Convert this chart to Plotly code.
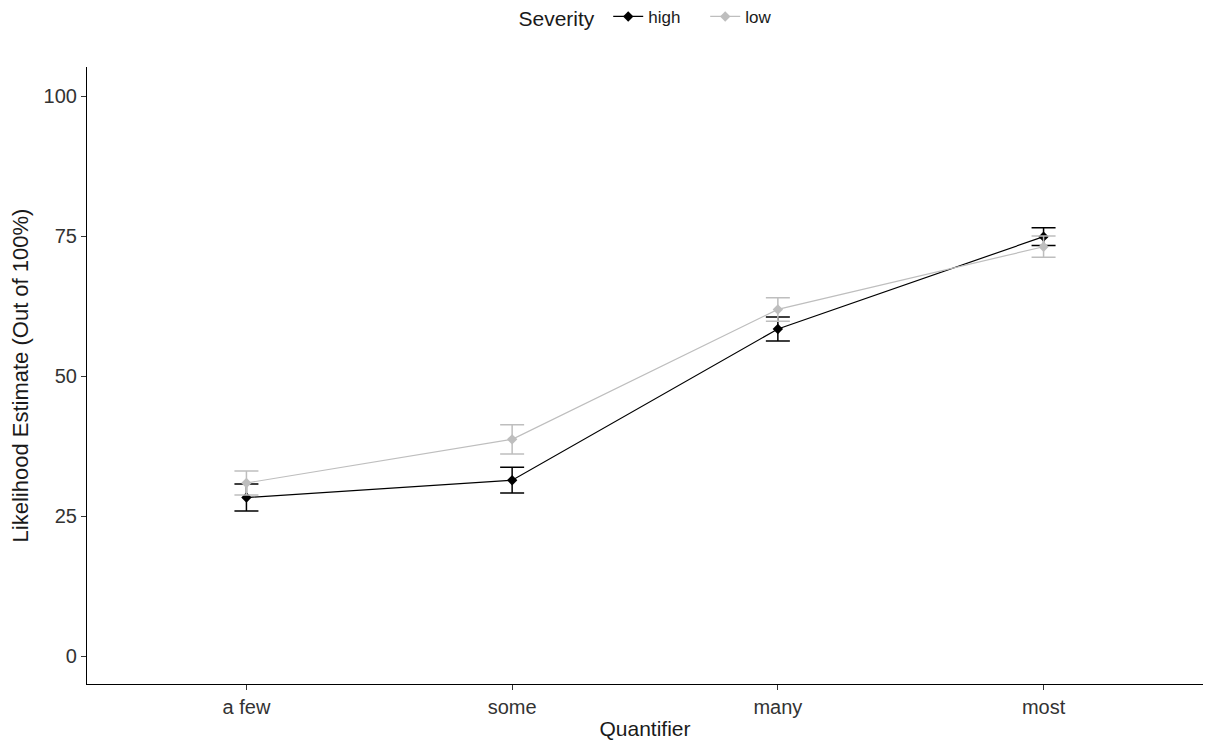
import plotly.graph_objects as go

quantifiers = ["a few", "some", "many", "most"]
high_mean = [28.3, 31.4, 58.4, 74.9]
high_err = [2.4, 2.3, 2.15, 1.6]
low_mean = [30.9, 38.7, 61.9, 73.1]
low_err = [2.15, 2.6, 2.1, 1.9]
y_ticks = [0, 25, 50, 75, 100]

FONT = "Liberation Sans, Arial, sans-serif"

fig = go.Figure()
for name, mean, err, color in [
    ("high", high_mean, high_err, "#000000"),
    ("low", low_mean, low_err, "#BEBEBE"),
]:
    fig.add_trace(go.Scatter(
        x=quantifiers, y=mean, name=name, mode="lines+markers",
        line=dict(color=color, width=1.2),
        marker=dict(symbol="diamond", size=8, color=color),
        error_y=dict(type="data", array=err, visible=True,
                     color=color, thickness=1.5, width=12),
    ))

fig.update_layout(
    width=1212, height=746,
    paper_bgcolor="white", plot_bgcolor="white",
    margin=dict(l=87, r=9, t=67, b=62),
    font=dict(family=FONT, color="#1a1a1a"),
    legend=dict(
        orientation="h", x=0.513, xanchor="center", y=0.976, yanchor="middle",
        yref="container", title=dict(text="Severity ", font=dict(size=21)),
        font=dict(size=17), itemwidth=30, entrywidth=52, entrywidthmode="pixels",
    ),
    xaxis=dict(
        type="category", categoryorder="array", categoryarray=quantifiers,
        range=[-0.6, 3.6], showgrid=False, zeroline=False,
        showline=True, linecolor="black", linewidth=1.2,
        ticks="outside", ticklen=5, tickcolor="#333333",
        tickfont=dict(size=20, color="#333333"),
        title=dict(text="Quantifier", font=dict(size=21), standoff=4),
    ),
    yaxis=dict(
        range=[-5, 105.2], tickvals=y_ticks, showgrid=False, zeroline=False,
        showline=True, linecolor="black", linewidth=1.2,
        ticks="outside", ticklen=5, tickcolor="#333333",
        tickfont=dict(size=20, color="#333333"),
        title=dict(text="Likelihood Estimate (Out of 100%)", font=dict(size=22), standoff=8),
    ),
)

fig.write_html("out.html")
